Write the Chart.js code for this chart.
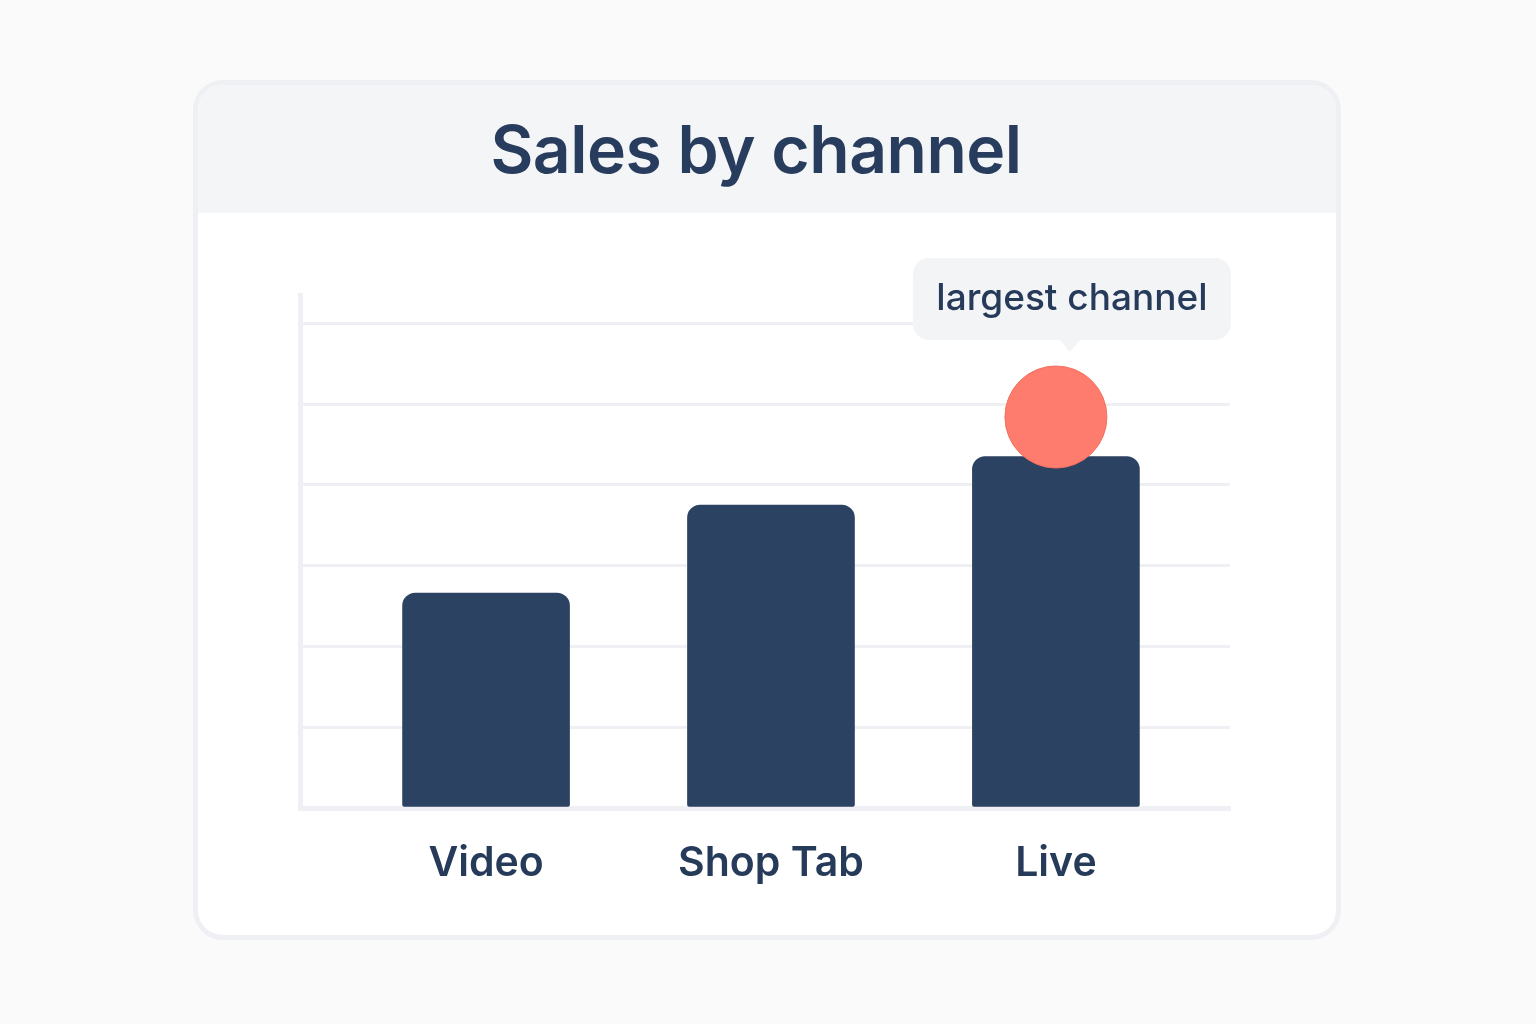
<!DOCTYPE html>
<html>
<head>
<meta charset="utf-8">
<script src="https://cdn.jsdelivr.net/npm/chart.js@4.4.1/dist/chart.umd.min.js"></script>
<style>
  html, body { margin: 0; padding: 0; background: #fafafa; }
  body { width: 1536px; height: 1024px; position: relative; overflow: hidden; font-family: Inter, "Noto Sans", sans-serif; }
  .card {
    position: absolute; left: 193px; top: 80px; width: 1138px; height: 850px;
    background: #ffffff; border: 5px solid #eff0f3; border-radius: 30px; overflow: hidden;
  }
  .head {
    height: 128px; background: #f4f5f7;
    display: flex; align-items: center; justify-content: center;
    padding-right: 22px;
    font-weight: 600; font-size: 66px; color: #283d5d; letter-spacing: -0.5px;
  }
  #wrap { position: absolute; left: 0; top: 0; width: 1536px; height: 1024px; }
</style>
</head>
<body>
<div class="card"><div class="head">Sales by channel</div></div>
<div id="wrap"><canvas id="myChart"></canvas></div>
<script>
const ctx = document.getElementById('myChart');

const canales = ['Video', 'Shop Tab', 'Live'];
const ventas = [2.66, 3.75, 4.35];
const marcaIdx = 2;
const marcaValor = 4.84;
const notaTexto = 'largest channel';
const yTicks = [0, 1, 2, 3, 4, 5, 6];

const navy = '#2c4262';
const texto = '#263a5a';
const gris = '#eef0f3';

// callout over the highlighted point
const notaPlugin = {
    id: 'nota',
    afterDatasetsDraw(chart){
        const p = chart.getDatasetMeta(1).data[0];
        if(!p) return;
        const c = chart.ctx;
        const w = 318, h = 82, r = 16;
        const cx = p.x + 16;
        const top = p.y - 159;
        const left = cx - w/2;
        c.save();
        c.fillStyle = '#f3f4f6';
        c.beginPath();
        c.roundRect(left, top, w, h, r);
        c.fill();
        // little pointer
        c.beginPath();
        c.moveTo(p.x + 4, top + h);
        c.lineTo(p.x + 14, top + h + 12);
        c.lineTo(p.x + 24, top + h);
        c.closePath();
        c.fill();
        c.fillStyle = texto;
        c.font = '500 37px Inter, "Noto Sans", sans-serif';
        c.textAlign = 'center';
        c.textBaseline = 'middle';
        c.fillText(notaTexto, cx, top + h/2);
        c.restore();
    }
};

const myChart = new Chart(ctx, {
    type: 'bar',
    data: {
        datasets: [{
            type: 'bar',
            data: ventas.map((v, i) => ({x: i, y: v})),
            backgroundColor: navy,
            borderWidth: 0,
            barThickness: 167,
            borderRadius: {topLeft: 13, topRight: 13, bottomLeft: 2, bottomRight: 2},
            borderSkipped: false,
            order: 2
        }, {
            type: 'scatter',
            data: [{x: marcaIdx, y: marcaValor}],
            backgroundColor: '#fd7c6e',
            borderColor: '#f6705f',
            borderWidth: 1,
            pointRadius: 51,
            pointHoverRadius: 51,
            order: 1
        }]
    },
    options: {
        responsive: true,
        maintainAspectRatio: false,
        animation: false,
        layout: { padding: { left: 300, right: 306, top: 295, bottom: 136 } },
        plugins: { legend: { display: false }, tooltip: { enabled: false } },
        scales: {
            x: {
                type: 'linear',
                offset: false,
                min: -0.653,
                max: 2.611,
                afterBuildTicks: (axis) => { axis.ticks = canales.map((c, i) => ({value: i})); },
                afterFit: (axis) => { axis.height = 80; },
                ticks: {
                    callback: (v) => canales[v],
                    color: texto,
                    font: { family: 'Inter', size: 41, weight: '600' },
                    padding: 23,
                    maxRotation: 0,
                    autoSkip: false
                },
                grid: { display: false },
                border: { display: true, color: gris, width: 5 }
            },
            y: {
                min: 0,
                max: 6.35,
                afterBuildTicks: (axis) => { axis.ticks = yTicks.map(v => ({value: v})); },
                afterFit: (axis) => { axis.width = 0; },
                ticks: { display: false },
                grid: {
                    color: (c) => c.tick && c.tick.value === 0 ? 'rgba(0,0,0,0)' : gris,
                    lineWidth: 3,
                    drawTicks: false
                },
                border: { display: true, color: gris, width: 5 }
            }
        }
    },
    plugins: [notaPlugin]
});
</script>
</body>
</html>
